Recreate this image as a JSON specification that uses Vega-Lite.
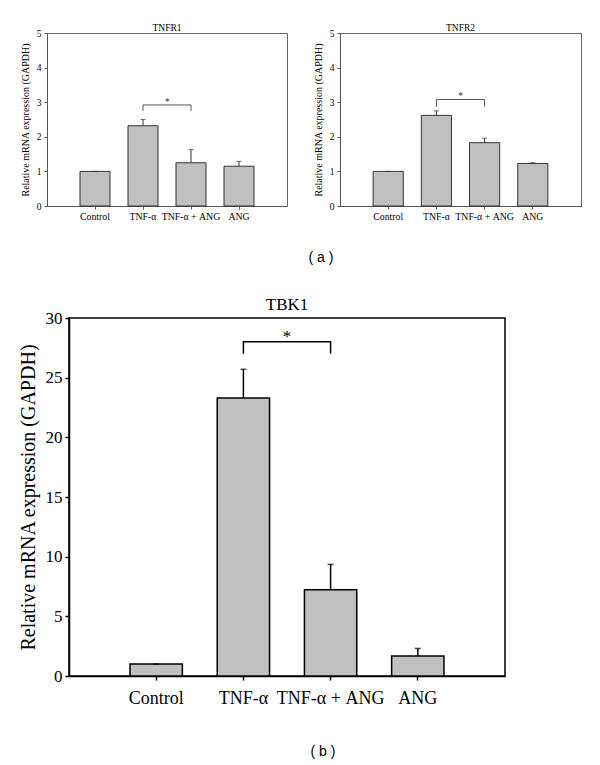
{
  "$schema": "https://vega.github.io/schema/vega-lite/v6.json",
  "padding": {"left": 17, "top": 22, "right": 5, "bottom": 5},
  "background": "white",
  "config": {
    "font": "Liberation Serif",
    "axis": {"grid": false, "labelFont": "Liberation Serif", "titleFont": "Liberation Serif", "titleFontWeight": "normal"},
    "title": {"font": "Liberation Serif", "fontWeight": "normal", "color": "black"}
  },
  "spacing": 29,
  "columns": 1,
  "concat": [
    {
      "title": {"text": "( a )", "orient": "bottom", "anchor": "middle", "frame": "group", "font": "Liberation Sans", "fontSize": 14, "offset": 30, "dx": 274},
      "spacing": 24,
      "hconcat": [
        {
          "width": 240, "height": 173,
          "view": {"stroke": "#666", "strokeWidth": 1},
          "title": {"text": "TNFR1", "fontSize": 9.5, "offset": -4},
          "data": {"values": [
            {"group": "Control", "mean": 1.0, "upper": 1.0},
            {"group": "TNF-α", "mean": 2.32, "upper": 2.5},
            {"group": "TNF-α + ANG", "mean": 1.25, "upper": 1.63},
            {"group": "ANG", "mean": 1.15, "upper": 1.29}
          ]},
          "encoding": {
            "x": {"field": "group", "type": "nominal", "sort": null,
                  "scale": {"paddingInner": 0.375, "paddingOuter": 0.6875},
                  "axis": {"title": null, "labelAngle": 0, "labelFontSize": 9.8, "labelColor": "black", "labelOverlap": false, "tickSize": 3, "labelPadding": 2, "domainColor": "#555", "tickColor": "#555"}}
          },
          "layer": [
            {"mark": {"type": "bar", "fill": "#c0c0c0", "stroke": "#333", "strokeWidth": 1},
             "encoding": {"y": {"field": "mean", "type": "quantitative", "scale": {"domain": [0, 5], "nice": false},
               "axis": {"values": [0, 1, 2, 3, 4, 5], "labelOverlap": false, "title": "Relative mRNA expression (GAPDH)", "titleFontSize": 10, "titleColor": "black", "titlePadding": 6, "labelFontSize": 9.5, "labelColor": "black", "tickSize": 3, "labelPadding": 3, "domainColor": "#555", "tickColor": "#555"}}}},
            {"mark": {"type": "rule", "color": "#333", "strokeWidth": 1},
             "encoding": {"y": {"field": "mean", "type": "quantitative", "axis": {"values": [0, 1, 2, 3, 4, 5], "labelOverlap": false, "title": "Relative mRNA expression (GAPDH)", "titleFontSize": 10, "titleColor": "black", "titlePadding": 6, "labelFontSize": 9.5, "labelColor": "black", "tickSize": 3, "labelPadding": 3, "domainColor": "#555", "tickColor": "#555"}}, "y2": {"field": "upper"}}},
            {"mark": {"type": "tick", "color": "#333", "size": 5, "thickness": 1},
             "encoding": {"y": {"field": "upper", "type": "quantitative", "axis": {"values": [0, 1, 2, 3, 4, 5], "labelOverlap": false, "title": "Relative mRNA expression (GAPDH)", "titleFontSize": 10, "titleColor": "black", "titlePadding": 6, "labelFontSize": 9.5, "labelColor": "black", "tickSize": 3, "labelPadding": 3, "domainColor": "#555", "tickColor": "#555"}}}},
            {"data": {"values": [
              {"group": "TNF-α", "y": 2.75, "order": 1},
              {"group": "TNF-α", "y": 2.92, "order": 2},
              {"group": "TNF-α + ANG", "y": 2.92, "order": 3},
              {"group": "TNF-α + ANG", "y": 2.75, "order": 4}
             ]},
             "mark": {"type": "line", "color": "#555", "strokeWidth": 1},
             "encoding": {"y": {"field": "y", "type": "quantitative", "axis": {"values": [0, 1, 2, 3, 4, 5], "labelOverlap": false, "title": "Relative mRNA expression (GAPDH)", "titleFontSize": 10, "titleColor": "black", "titlePadding": 6, "labelFontSize": 9.5, "labelColor": "black", "tickSize": 3, "labelPadding": 3, "domainColor": "#555", "tickColor": "#555"}}, "order": {"field": "order", "type": "quantitative"}}},
            {"data": {"values": [{"group": "TNF-α", "y": 2.92, "label": "*"}]},
             "mark": {"type": "text", "fontSize": 9.5, "baseline": "alphabetic", "color": "#333"},
             "encoding": {"x": {"field": "group", "type": "nominal", "bandPosition": 1.3}, "y": {"field": "y", "type": "quantitative", "axis": {"values": [0, 1, 2, 3, 4, 5], "labelOverlap": false, "title": "Relative mRNA expression (GAPDH)", "titleFontSize": 10, "titleColor": "black", "titlePadding": 6, "labelFontSize": 9.5, "labelColor": "black", "tickSize": 3, "labelPadding": 3, "domainColor": "#555", "tickColor": "#555"}}, "text": {"field": "label"}}}
          ]
        },
        {
          "width": 241, "height": 173,
          "view": {"stroke": "#666", "strokeWidth": 1},
          "title": {"text": "TNFR2", "fontSize": 9.5, "offset": -4},
          "data": {"values": [
            {"group": "Control", "mean": 1.0, "upper": 1.0},
            {"group": "TNF-α", "mean": 2.62, "upper": 2.75},
            {"group": "TNF-α + ANG", "mean": 1.83, "upper": 1.96},
            {"group": "ANG", "mean": 1.23, "upper": 1.25}
          ]},
          "encoding": {
            "x": {"field": "group", "type": "nominal", "sort": null,
                  "scale": {"paddingInner": 0.375, "paddingOuter": 0.6875},
                  "axis": {"title": null, "labelAngle": 0, "labelFontSize": 9.8, "labelColor": "black", "labelOverlap": false, "tickSize": 3, "labelPadding": 2, "domainColor": "#555", "tickColor": "#555"}}
          },
          "layer": [
            {"mark": {"type": "bar", "fill": "#c0c0c0", "stroke": "#333", "strokeWidth": 1},
             "encoding": {"y": {"field": "mean", "type": "quantitative", "scale": {"domain": [0, 5], "nice": false},
               "axis": {"values": [0, 1, 2, 3, 4, 5], "labelOverlap": false, "title": "Relative mRNA expression (GAPDH)", "titleFontSize": 10, "titleColor": "black", "titlePadding": 6, "labelFontSize": 9.5, "labelColor": "black", "tickSize": 3, "labelPadding": 3, "domainColor": "#555", "tickColor": "#555"}}}},
            {"mark": {"type": "rule", "color": "#333", "strokeWidth": 1},
             "encoding": {"y": {"field": "mean", "type": "quantitative", "axis": {"values": [0, 1, 2, 3, 4, 5], "labelOverlap": false, "title": "Relative mRNA expression (GAPDH)", "titleFontSize": 10, "titleColor": "black", "titlePadding": 6, "labelFontSize": 9.5, "labelColor": "black", "tickSize": 3, "labelPadding": 3, "domainColor": "#555", "tickColor": "#555"}}, "y2": {"field": "upper"}}},
            {"mark": {"type": "tick", "color": "#333", "size": 5, "thickness": 1},
             "encoding": {"y": {"field": "upper", "type": "quantitative", "axis": {"values": [0, 1, 2, 3, 4, 5], "labelOverlap": false, "title": "Relative mRNA expression (GAPDH)", "titleFontSize": 10, "titleColor": "black", "titlePadding": 6, "labelFontSize": 9.5, "labelColor": "black", "tickSize": 3, "labelPadding": 3, "domainColor": "#555", "tickColor": "#555"}}}},
            {"data": {"values": [
              {"group": "TNF-α", "y": 2.87, "order": 1},
              {"group": "TNF-α", "y": 3.08, "order": 2},
              {"group": "TNF-α + ANG", "y": 3.08, "order": 3},
              {"group": "TNF-α + ANG", "y": 2.87, "order": 4}
             ]},
             "mark": {"type": "line", "color": "#555", "strokeWidth": 1},
             "encoding": {"y": {"field": "y", "type": "quantitative", "axis": {"values": [0, 1, 2, 3, 4, 5], "labelOverlap": false, "title": "Relative mRNA expression (GAPDH)", "titleFontSize": 10, "titleColor": "black", "titlePadding": 6, "labelFontSize": 9.5, "labelColor": "black", "tickSize": 3, "labelPadding": 3, "domainColor": "#555", "tickColor": "#555"}}, "order": {"field": "order", "type": "quantitative"}}},
            {"data": {"values": [{"group": "TNF-α", "y": 3.08, "label": "*"}]},
             "mark": {"type": "text", "fontSize": 9.5, "baseline": "alphabetic", "color": "#333"},
             "encoding": {"x": {"field": "group", "type": "nominal", "bandPosition": 1.3}, "y": {"field": "y", "type": "quantitative", "axis": {"values": [0, 1, 2, 3, 4, 5], "labelOverlap": false, "title": "Relative mRNA expression (GAPDH)", "titleFontSize": 10, "titleColor": "black", "titlePadding": 6, "labelFontSize": 9.5, "labelColor": "black", "tickSize": 3, "labelPadding": 3, "domainColor": "#555", "tickColor": "#555"}}, "text": {"field": "label"}}}
          ]
        }
      ]
    },
    {
      "title": {"text": "( b )", "orient": "bottom", "anchor": "middle", "frame": "group", "font": "Liberation Sans", "fontSize": 14, "offset": 37, "dx": 276},
      "spacing": -31,
      "hconcat": [
        {
          "width": 1, "height": 1,
          "view": {"stroke": null},
          "data": {"values": []},
          "mark": "point"
        },
        {
          "width": 436, "height": 358,
          "view": {"stroke": "black", "strokeWidth": 1.5},
          "title": {"text": "TBK1", "fontSize": 17, "offset": -5, "frame": "group"},
          "data": {"values": [
            {"group": "Control", "mean": 1.0, "upper": 1.0},
            {"group": "TNF-α", "mean": 23.3, "upper": 25.7},
            {"group": "TNF-α + ANG", "mean": 7.23, "upper": 9.35},
            {"group": "ANG", "mean": 1.68, "upper": 2.31}
          ]},
          "encoding": {
            "x": {"field": "group", "type": "nominal", "sort": null,
                  "scale": {"paddingInner": 0.4, "paddingOuter": 0.7},
                  "axis": {"title": null, "labelAngle": 0, "labelFontSize": 18, "labelColor": "black", "labelOverlap": false, "tickSize": 4, "tickWidth": 1.5, "domainWidth": 1.5, "labelPadding": 9, "domainColor": "black", "tickColor": "black"}}
          },
          "layer": [
            {"mark": {"type": "bar", "fill": "#c0c0c0", "stroke": "black", "strokeWidth": 1.5},
             "encoding": {"y": {"field": "mean", "type": "quantitative", "scale": {"domain": [0, 30], "nice": false},
               "axis": {"values": [0, 5, 10, 15, 20, 25, 30], "labelOverlap": false, "title": "Relative mRNA expression (GAPDH)", "titleFontSize": 20, "titleColor": "black", "titlePadding": 7, "labelFontSize": 17, "labelColor": "black", "tickSize": 4, "tickWidth": 1.5, "domainWidth": 1.5, "labelPadding": 3, "domainColor": "black", "tickColor": "black"}}}},
            {"mark": {"type": "rule", "color": "black", "strokeWidth": 1.5},
             "encoding": {"y": {"field": "mean", "type": "quantitative", "axis": {"values": [0, 5, 10, 15, 20, 25, 30], "labelOverlap": false, "title": "Relative mRNA expression (GAPDH)", "titleFontSize": 20, "titleColor": "black", "titlePadding": 7, "labelFontSize": 17, "labelColor": "black", "tickSize": 4, "tickWidth": 1.5, "domainWidth": 1.5, "labelPadding": 3, "domainColor": "black", "tickColor": "black"}}, "y2": {"field": "upper"}}},
            {"mark": {"type": "tick", "color": "black", "size": 6, "thickness": 1.5},
             "encoding": {"y": {"field": "upper", "type": "quantitative", "axis": {"values": [0, 5, 10, 15, 20, 25, 30], "labelOverlap": false, "title": "Relative mRNA expression (GAPDH)", "titleFontSize": 20, "titleColor": "black", "titlePadding": 7, "labelFontSize": 17, "labelColor": "black", "tickSize": 4, "tickWidth": 1.5, "domainWidth": 1.5, "labelPadding": 3, "domainColor": "black", "tickColor": "black"}}}},
            {"data": {"values": [
              {"group": "TNF-α", "y": 27.0, "order": 1},
              {"group": "TNF-α", "y": 28.0, "order": 2},
              {"group": "TNF-α + ANG", "y": 28.0, "order": 3},
              {"group": "TNF-α + ANG", "y": 27.0, "order": 4}
             ]},
             "mark": {"type": "line", "color": "black", "strokeWidth": 1.5},
             "encoding": {"y": {"field": "y", "type": "quantitative", "axis": {"values": [0, 5, 10, 15, 20, 25, 30], "labelOverlap": false, "title": "Relative mRNA expression (GAPDH)", "titleFontSize": 20, "titleColor": "black", "titlePadding": 7, "labelFontSize": 17, "labelColor": "black", "tickSize": 4, "tickWidth": 1.5, "domainWidth": 1.5, "labelPadding": 3, "domainColor": "black", "tickColor": "black"}}, "order": {"field": "order", "type": "quantitative"}}},
            {"data": {"values": [{"group": "TNF-α", "y": 28.0, "label": "*"}]},
             "mark": {"type": "text", "fontSize": 17, "baseline": "alphabetic", "color": "black"},
             "encoding": {"x": {"field": "group", "type": "nominal", "bandPosition": 1.333}, "y": {"field": "y", "type": "quantitative", "axis": {"values": [0, 5, 10, 15, 20, 25, 30], "labelOverlap": false, "title": "Relative mRNA expression (GAPDH)", "titleFontSize": 20, "titleColor": "black", "titlePadding": 7, "labelFontSize": 17, "labelColor": "black", "tickSize": 4, "tickWidth": 1.5, "domainWidth": 1.5, "labelPadding": 3, "domainColor": "black", "tickColor": "black"}}, "text": {"field": "label"}}}
          ]
        }
      ]
    }
  ]
}
